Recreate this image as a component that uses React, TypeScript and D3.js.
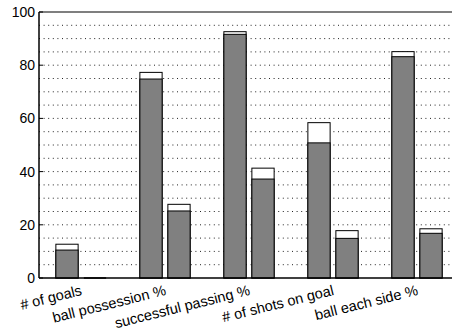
import React from "react";
import * as d3 from "d3";

const categories = ["# of goals", "ball possession %", "successful passing %", "# of shots on goal", "ball each side %"];
// each group holds two bars; the gray part is the base value, the white cap extends to the upper value
const baseA = [10.5, 74.8, 91.6, 50.8, 83.2];
const topA = [12.7, 77.3, 92.6, 58.4, 85.1];
const baseB = [0, 25.2, 37.2, 14.9, 16.8];
const topB = [0, 27.7, 41.3, 17.8, 18.5];
const yTicks = [0, 20, 40, 60, 80, 100];

const W = 452;
const H = 334;
const left = 39;
const top = 12;
const bottom = 278;
const labelAngle = 14;

export default function App() {
  const x = d3.scaleLinear().domain([0.5, 5.5]).range([left, left + 420]);
  const y = d3.scaleLinear().domain([0, 100]).range([bottom, top]);
  const unit = x(2) - x(1);
  const offset = unit * 0.1667;
  const bw = unit * 0.265;
  const grid = d3.range(5, 100, 5);

  const bars: React.ReactNode[] = [];
  const series = [
    { base: baseA, cap: topA, off: -offset },
    { base: baseB, cap: topB, off: offset },
  ];
  categories.forEach((_, i) => {
    series.forEach((sr, j) => {
      const cx = x(i + 1) + sr.off;
      const x0 = cx - bw / 2;
      if (sr.cap[i] === 0) {
        bars.push(
          <line key={`z${i}${j}`} x1={x0} x2={x0 + bw} y1={y(0)} y2={y(0)} stroke="#000" strokeWidth={1.5} />
        );
        return;
      }
      bars.push(
        <rect key={`c${i}${j}`} x={x0} y={y(sr.cap[i])} width={bw} height={y(0) - y(sr.cap[i])}
          fill="#fff" stroke="#000" strokeWidth={1} />
      );
      bars.push(
        <rect key={`b${i}${j}`} x={x0} y={y(sr.base[i])} width={bw} height={y(0) - y(sr.base[i])}
          fill="#808080" stroke="#000" strokeWidth={1} />
      );
    });
  });

  return (
    <svg width={W} height={H} style={{ display: "block", position: "absolute", left: 0, top: 0 }}
      fontFamily="'Liberation Sans', Arial, sans-serif">
      <rect width={W} height={H} fill="#fff" />
      {grid.map((g) => (
        <line key={g} x1={left} x2={W} y1={y(g)} y2={y(g)} stroke="#222" strokeWidth={1}
          strokeDasharray="1,3.6" />
      ))}
      {bars}
      <line x1={left} x2={W} y1={top} y2={top} stroke="#000" strokeWidth={1.2} />
      <line x1={left} x2={W} y1={bottom} y2={bottom} stroke="#000" strokeWidth={1.5} />
      <line x1={left} x2={left} y1={top} y2={bottom} stroke="#000" strokeWidth={1.5} />
      {yTicks.map((t) => (
        <g key={t}>
          <line x1={left} x2={left + 4} y1={y(t)} y2={y(t)} stroke="#000" />
          <text x={left - 4} y={y(t)} textAnchor="end" dominantBaseline="central" fontSize={14}>{t}</text>
        </g>
      ))}
      {categories.map((label, i) => (
        <text key={label}
          transform={`translate(${x(i + 1) - 1},${bottom + 6}) rotate(-${labelAngle})`}
          x={0} y={11} textAnchor="end" fontSize={14.5}>{label}</text>
      ))}
    </svg>
  );
}
